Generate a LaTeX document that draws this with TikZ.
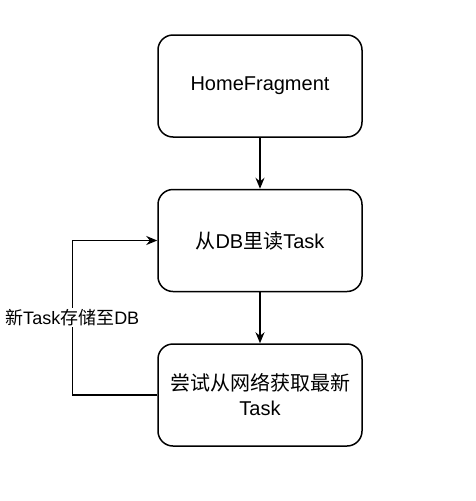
\documentclass[tikz,border=0pt]{standalone}
\usepackage{fontspec}
\setmainfont{Liberation Sans}
\newfontfamily\cjk{Noto Sans CJK SC}
\newcommand{\zh}[1]{{\cjk #1}}
\usetikzlibrary{positioning,arrows.meta}
\begin{document}
\begin{tikzpicture}[
    x=1pt, y=-1pt,
    arrowstyle/.style={draw, line width=1.5pt, -{Stealth[length=11pt,width=9pt]}},
    stepbox/.style={rectangle, draw, line width=1.5pt, rounded corners=15pt,
        minimum width=204pt, minimum height=102pt, text width=190pt,
        align=center, font=\fontsize{20}{25}\selectfont},
    looplabel/.style={fill=white, inner sep=1pt, font=\fontsize{18}{22}\selectfont},
    node distance=51pt
]
\useasboundingbox (0,0) rectangle (476,501);
\node (home) [stepbox] at (260,86) {HomeFragment};
\node (read) [stepbox, below=of home] {\zh{从}DB\zh{里读}Task};
\node (try) [stepbox, below=of read] {\zh{尝试从网络获取最新}\\Task};
\draw[arrowstyle] (home) -- (read);
\draw[arrowstyle] (read) -- (try);
\draw[arrowstyle] (try.west) -- ++(-85,0) |- node[pos=0.25, looplabel] {\zh{新}Task\zh{存储至}DB} (read.west);
\end{tikzpicture}
\end{document}
